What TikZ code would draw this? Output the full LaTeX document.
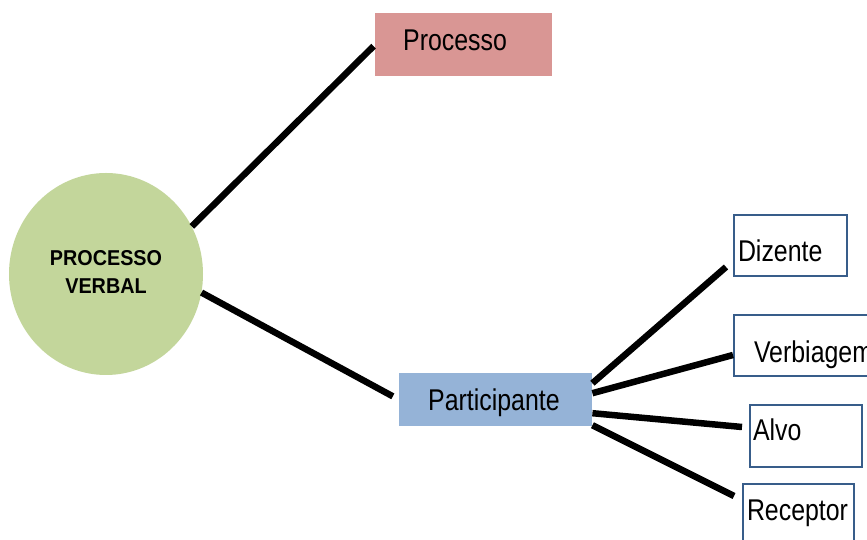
\documentclass[tikz,border=0pt]{standalone}
\usepackage{fontspec}
\usetikzlibrary{shapes.geometric}
\newfontfamily\labelfont[FakeStretch=0.83]{Liberation Sans}
\newfontfamily\titlefont[FakeStretch=0.92]{Liberation Sans}
\definecolor{procfill}{HTML}{D99694}
\definecolor{partfill}{HTML}{95B3D7}
\definecolor{hubfill}{HTML}{C3D69B}
\definecolor{leafedge}{HTML}{385D8A}
\begin{document}
\begin{tikzpicture}[x=1pt,y=1pt,
  hub/.style={ellipse, fill=hubfill, inner sep=0pt,
    minimum width=194pt, minimum height=202pt,
    font=\titlefont\bfseries\fontsize{21.5}{28}\selectfont},
  box/.style={rectangle, anchor=north west, inner ysep=0pt, align=left,
    font=\labelfont\fontsize{30}{32}\selectfont},
  filled/.style={box, draw=none},
  leaf/.style={box, draw=leafedge, line width=2pt, fill=white},
  link/.style={line width=6.5pt, black}]
\clip (0,0) rectangle (867,540);
\fill[white] (0,0) rectangle (867,540);

% central concept
\node[hub] (verbal) at (106,266)
  {\raisebox{5.6pt}{\begin{tabular}{@{}c@{}}PROCESSO\\VERBAL\end{tabular}}\hspace{8pt}};

% first-level boxes
\node[filled, fill=procfill, minimum width=177pt, minimum height=63pt,
  inner xsep=28pt, text width=121pt, text height=20pt, text depth=9pt]
  (proc) at (375,527) {Processo};
\node[filled, fill=partfill, minimum width=193pt, minimum height=53pt,
  inner xsep=29pt, text width=135pt, text height=22pt, text depth=1pt]
  (part) at (399,167) {Participante};

% participant roles
\node[leaf, minimum width=113pt, minimum height=61pt,
  inner xsep=4pt, text width=105pt, text height=34pt, text depth=1pt]
  (diz) at (733,326) {Dizente};
\node[leaf, minimum width=145pt, minimum height=61pt,
  inner xsep=20pt, text width=105pt, text height=36pt, text depth=1pt]
  (verb) at (733,226) {Verbiagem};
\node[leaf, minimum width=112pt, minimum height=62pt,
  inner xsep=3pt, text width=106pt, text height=20pt, text depth=10pt]
  (alvo) at (749,136) {Alvo};
\node[leaf, minimum width=111pt, minimum height=61pt,
  inner xsep=4pt, text width=103pt, text height=20pt, text depth=7pt]
  (rec) at (742,57) {Receptor};

% connectors
\draw[link, shorten >=2pt] (verbal.29) -- (proc.west);
\draw[link, shorten >=7pt] (verbal.-11) -- (part.west);
\draw[link] ([yshift=16.5pt]part.east) -- ([xshift=-7pt,yshift=10pt]diz.south west);
\draw[link] ([yshift=6.5pt]part.east) -- ([yshift=-9.5pt]verb.west);
\draw[link] ([yshift=-13.5pt]part.east) -- ([xshift=-7pt,yshift=9pt]alvo.west);
\draw[link] ([yshift=-25.5pt]part.east) -- ([xshift=-8pt,yshift=18.5pt]rec.west);
\end{tikzpicture}
\end{document}
